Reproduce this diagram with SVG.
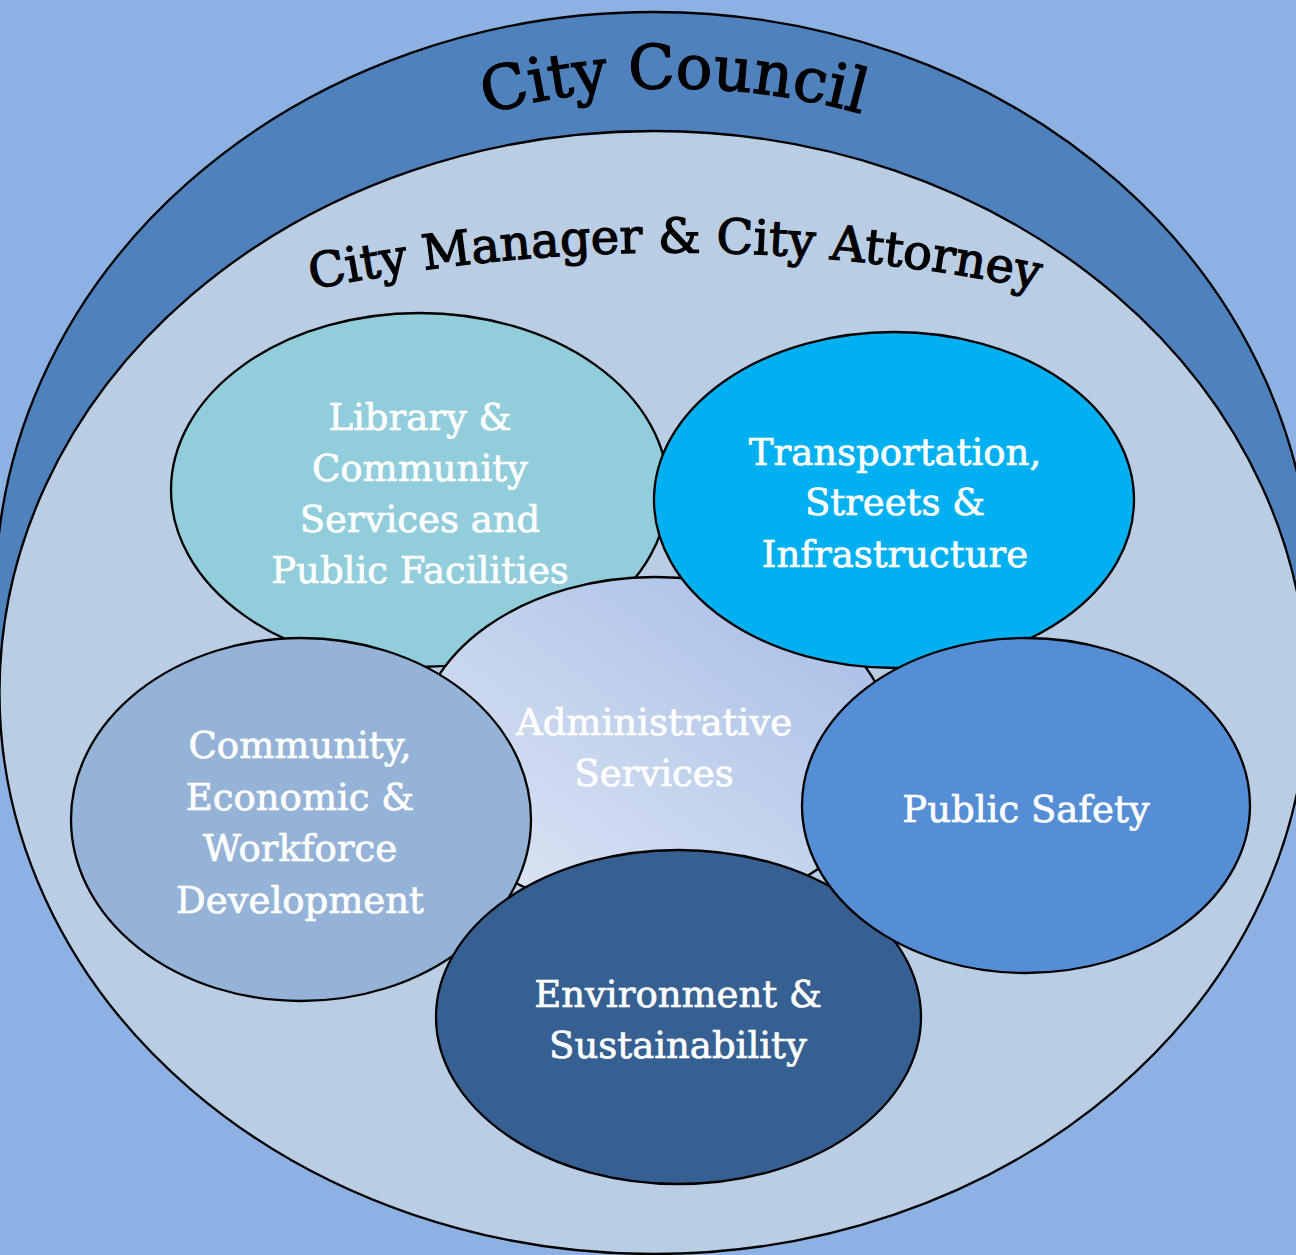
<svg xmlns="http://www.w3.org/2000/svg" width="1296" height="1255" viewBox="0 0 1296 1255">
  <defs>
    <linearGradient id="adminGrad" x1="0" y1="1" x2="1" y2="0">
      <stop offset="0" stop-color="#E1E8F5"/>
      <stop offset="0.55" stop-color="#C0D0EC"/>
      <stop offset="1" stop-color="#A3BAE6"/>
    </linearGradient>
    <path id="arcCouncil" d="M138,338 A700,700 0 0 1 1210,338"/>
    <path id="arcManager" d="M-125,440 A1800,1800 0 0 1 1475,440"/>
    <style>
      .shape { stroke: #000; stroke-width: 2.3; }
      .label { font-family: "DejaVu Serif", "Liberation Serif", serif; fill: #FFFFFF; stroke: #FFFFFF; stroke-width: 0.7; font-size: 37px; text-anchor: middle; }
      .arcText { font-family: "DejaVu Serif", "Liberation Serif", serif; fill: #000000; stroke: #000000; stroke-width: 1.3; }
    </style>
  </defs>

  <rect x="0" y="0" width="1296" height="1255" fill="#8DB1E2"/>

  <g id="city-council">
    <ellipse class="shape" cx="653.5" cy="594" rx="658" ry="582" fill="#4F81BD"/>
    <text class="arcText" font-size="61"><textPath href="#arcCouncil" startOffset="50%" text-anchor="middle">City Council</textPath></text>
  </g>

  <g id="city-manager-attorney">
    <ellipse class="shape" cx="653.5" cy="692.5" rx="654" ry="561.5" fill="#B9CDE5"/>
    <text class="arcText" font-size="48"><textPath href="#arcManager" startOffset="50%" text-anchor="middle">City Manager &amp; City Attorney</textPath></text>
  </g>

  <g id="connectors"></g>

  <g id="library">
    <ellipse class="shape" cx="419.5" cy="490" rx="248.5" ry="177" fill="#92CDDC"/>
    <text class="label" x="420" y="430">Library &amp;</text>
    <text class="label" x="420" y="481">Community</text>
    <text class="label" x="420" y="532">Services and</text>
    <text class="label" x="420" y="583">Public Facilities</text>
  </g>

  <g id="administrative">
    <ellipse class="shape" cx="655" cy="746" rx="238" ry="169" fill="url(#adminGrad)"/>
    <text class="label" x="654" y="735">Administrative</text>
    <text class="label" x="654" y="786">Services</text>
  </g>

  <g id="transportation">
    <ellipse class="shape" cx="894" cy="500" rx="240" ry="168" fill="#00B0F0"/>
    <text class="label" x="895" y="465">Transportation,</text>
    <text class="label" x="895" y="515">Streets &amp;</text>
    <text class="label" x="895" y="567">Infrastructure</text>
  </g>

  <g id="community-economic">
    <ellipse class="shape" cx="301" cy="819.5" rx="230" ry="181.5" fill="#95B3D7"/>
    <text class="label" x="300" y="758">Community,</text>
    <text class="label" x="300" y="810">Economic &amp;</text>
    <text class="label" x="300" y="861">Workforce</text>
    <text class="label" x="300" y="913">Development</text>
  </g>

  <g id="environment">
    <ellipse class="shape" cx="678.5" cy="1017" rx="242.5" ry="167" fill="#366092"/>
    <text class="label" x="678" y="1007">Environment &amp;</text>
    <text class="label" x="678" y="1058">Sustainability</text>
  </g>

  <g id="public-safety">
    <ellipse class="shape" cx="1026" cy="805.5" rx="224" ry="167.5" fill="#558ED5"/>
    <text class="label" x="1026" y="822">Public Safety</text>
  </g>
</svg>
